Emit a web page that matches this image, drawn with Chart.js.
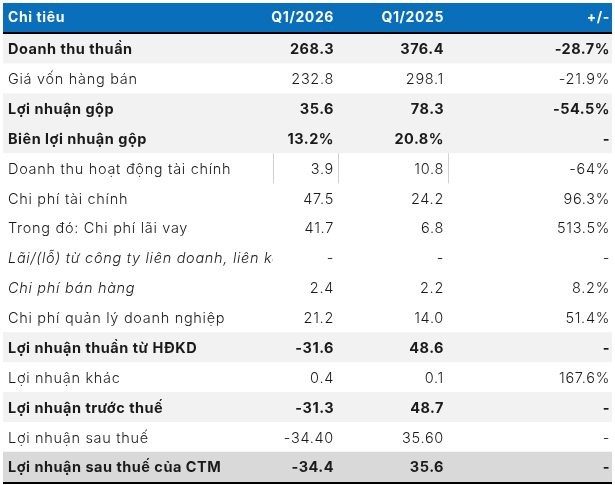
<!DOCTYPE html>
<html>
<head>
<meta charset="utf-8">
<script src="https://cdn.jsdelivr.net/npm/chart.js@4"></script>
<style>
  html, body { margin: 0; padding: 0; background: #fff; }
  #wrap { width: 615px; height: 485px; }
</style>
</head>
<body>
<div id="wrap"><canvas id="tbl"></canvas></div>
<script>
const headers = ["Chỉ tiêu", "Q1/2026", "Q1/2025", "+/-"];
const labels = [
  "Doanh thu thuần", "Giá vốn hàng bán", "Lợi nhuận gộp", "Biên lợi nhuận gộp",
  "Doanh thu hoạt động tài chính", "Chi phí tài chính", "Trong đó: Chi phí lãi vay",
  "Lãi/(lỗ) từ công ty liên doanh, liên kết", "Chi phí bán hàng", "Chi phí quản lý doanh nghiệp",
  "Lợi nhuận thuần từ HĐKD", "Lợi nhuận khác", "Lợi nhuận trước thuế",
  "Lợi nhuận sau thuế", "Lợi nhuận sau thuế của CTM"
];
const q1_2026 = ["268.3", "232.8", "35.6", "13.2%", "3.9", "47.5", "41.7", "-", "2.4", "21.2", "-31.6", "0.4", "-31.3", "-34.40", "-34.4"];
const q1_2025 = ["376.4", "298.1", "78.3", "20.8%", "10.8", "24.2", "6.8", "-", "2.2", "14.0", "48.6", "0.1", "48.7", "35.60", "35.6"];
const change = ["-28.7%", "-21.9%", "-54.5%", "-", "-64%", "96.3%", "513.5%", "-", "8.2%", "51.4%", "-", "167.6%", "-", "-", "-"];
const boldRows = [0, 2, 3, 10, 12, 14];
const italicRows = [7, 8];

const FONT = "Inter, 'Open Sans', sans-serif";
const colRight = [0, 334, 444, 610];

const tablePlugin = {
  id: "tableText",
  afterDatasetsDraw(chart) {
    const { ctx, chartArea, scales } = chart;
    const y = scales.y;
    ctx.save();
    // header
    ctx.fillStyle = "#0a6fba";
    ctx.fillRect(chartArea.left, 3, chartArea.right - chartArea.left, 29);
    ctx.fillStyle = "#000";
    ctx.fillRect(chartArea.left, 32, chartArea.right - chartArea.left, 2);
    ctx.fillRect(chartArea.left, chartArea.bottom, chartArea.right - chartArea.left, 2);
    ctx.fillStyle = "#fff";
    ctx.letterSpacing = "0.6px";
    ctx.font = "bold 14px " + FONT;
    ctx.textBaseline = "middle";
    ctx.textAlign = "left";
    ctx.fillText(headers[0], 8, 18);
    ctx.textAlign = "right";
    for (let c = 1; c < 4; c++) ctx.fillText(headers[c], colRight[c], 18);

    // light separators in row 5
    const r5 = y.getPixelForValue(4);
    ctx.strokeStyle = "#d0d0d0";
    ctx.lineWidth = 1;
    [273.5, 338.5, 448.5].forEach((x) => {
      ctx.beginPath(); ctx.moveTo(x, r5 - 15); ctx.lineTo(x, r5 + 15); ctx.stroke();
    });

    labels.forEach((lab, i) => {
      const py = y.getPixelForValue(i) + 1;
      const bold = boldRows.includes(i);
      const italic = italicRows.includes(i);
      ctx.fillStyle = "#1a1a1a";
      ctx.letterSpacing = bold ? "0.5px" : "0.7px";
      ctx.font = (italic ? "italic " : "") + (bold ? "bold 14.5px " : "300 14.5px ") + FONT;
      ctx.textAlign = "left";
      ctx.save();
      ctx.beginPath(); ctx.rect(0, py - 15, 273, 30); ctx.clip();
      ctx.fillText(lab, 8, py);
      ctx.restore();
      ctx.textAlign = "right";
      ctx.font = (bold ? "bold 14.5px " : "300 14.5px ") + FONT;
      ctx.fillText(q1_2026[i], colRight[1], py);
      ctx.fillText(q1_2025[i], colRight[2], py);
      ctx.fillText(change[i], colRight[3], py);
    });
    ctx.restore();
  }
};

new Chart(document.getElementById("tbl"), {
  type: "bar",
  data: {
    labels,
    datasets: [{
      data: labels.map(() => 1),
      backgroundColor: labels.map((_, i) => i === 14 ? "#d9d9d9" : boldRows.includes(i) ? "#f2f2f2" : "#ffffff"),
      barPercentage: 1,
      categoryPercentage: 1,
      borderWidth: 0
    }]
  },
  options: {
    indexAxis: "y",
    responsive: true,
    maintainAspectRatio: false,
    animation: false,
    layout: { padding: { top: 34, left: 3, right: 3, bottom: 3 } },
    scales: {
      x: { display: false, min: 0, max: 1 },
      y: { display: false }
    },
    plugins: { legend: { display: false }, tooltip: { enabled: false } }
  },
  plugins: [tablePlugin]
});
</script>
</body>
</html>
